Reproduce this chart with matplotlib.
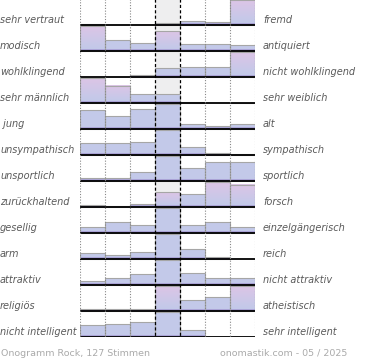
import numpy as np
import matplotlib
matplotlib.use('Agg')
import matplotlib.pyplot as plt
import matplotlib.patches as mpatches
from matplotlib.colors import to_rgb

# Onogramm data: share of votes per scale step, relative to each row's maximum (100 = full row)
left_labels = ['sehr vertraut', 'modisch', 'wohlklingend', 'sehr männlich', ' jung',
               'unsympathisch', 'unsportlich', 'zurückhaltend', 'gesellig', 'arm',
               'attraktiv', 'religiös', 'nicht intelligent']
right_labels = ['fremd', 'antiquiert', 'nicht wohlklingend', 'sehr weiblich', 'alt',
                'sympathisch', 'sportlich', 'forsch', 'einzelgängerisch', 'reich',
                'nicht attraktiv', 'atheistisch', 'sehr intelligent']
values = [
    [7, 0, 0, 9, 17, 13, 100],
    [100, 44, 33, 80, 31, 31, 24],
    [0, 0, 9, 36, 40, 40, 100],
    [100, 71, 37, 37, 7, 0, 3],
    [77, 55, 81, 100, 23, 15, 23],
    [48, 48, 52, 100, 35, 10, 5],
    [12, 12, 36, 100, 55, 76, 76],
    [8, 4, 13, 60, 52, 100, 89],
    [24, 47, 35, 100, 35, 47, 27],
    [24, 16, 28, 100, 43, 11, 0],
    [17, 31, 44, 100, 48, 31, 31],
    [9, 9, 9, 100, 45, 56, 100],
    [48, 52, 60, 100, 28, 0, 0],
]
# bars drawn with a pink top (row, column)
pink_bars = [(0, 6), (1, 0), (1, 3), (2, 6), (3, 0), (3, 1), (7, 3), (7, 5), (7, 6), (11, 3), (11, 6)]
footer_left = 'Onogramm Rock, 127 Stimmen'
footer_right = 'onomastik.com - 05 / 2025'

n_rows = len(values)
n_cols = len(values[0])

W, H = 370, 360
fig = plt.figure(figsize=(W / 100, H / 100), dpi=100)
ax_l, ax_r = 80, 255
ax_top, ax_bot = -0.7, 337.3
ax = fig.add_axes([ax_l / W, 1 - ax_bot / H, (ax_r - ax_l) / W, (ax_bot - ax_top) / H])
ax.set_xlim(0, n_cols)
ax.set_ylim(n_rows, 0)
ax.axis('off')

blue = np.array(to_rgb('#c3c9e9'))
pink = np.array(to_rgb('#dcc5e6'))
full = 25 / 26

# middle column background
ax.add_patch(mpatches.Rectangle((3, 0), 1, n_rows, facecolor='#eeeeef', edgecolor='none', zorder=0))

for i, row in enumerate(values):
    base = i + 1
    for j, v in enumerate(row):
        h = v / 100 * full
        if h <= 0:
            continue
        if (i, j) in pink_bars:
            t = np.linspace(0, 1, 40)[:, None]
            w = np.clip(1 - t * 1.15, 0, 1)
            grad = (w * pink + (1 - w) * blue)[:, None, :]
            ax.imshow(grad, extent=(j, j + 1, base, base - h), origin='upper',
                      aspect='auto', interpolation='bilinear', zorder=2)
        else:
            ax.add_patch(mpatches.Rectangle((j, base), 1, -h, facecolor=blue,
                                            edgecolor='none', zorder=2))
        band = min(h, 0.09)
        ax.add_patch(mpatches.Rectangle((j, base), 1, -band, facecolor='#aaa3d6',
                                        edgecolor='none', zorder=3))
        ax.add_patch(mpatches.Rectangle((j, base), 1, -min(h, 0.04), facecolor='#8e86c2',
                                        edgecolor='none', zorder=3))
        ax.add_patch(mpatches.Rectangle((j, base), 1, -h, facecolor='none',
                                        edgecolor='#a6a6a6', linewidth=0.8, zorder=4))
    ax.plot([0, n_cols], [base, base], color='black', linewidth=1.3, zorder=5,
            solid_capstyle='butt')
    ax.text(-80 / 25, base - 0.2, left_labels[i], ha='left', va='center',
            fontsize=7, style='italic', color='#5a5a5a', clip_on=False)
    ax.text(n_cols + 8 / 25, base - 0.2, right_labels[i], ha='left', va='center',
            fontsize=7, style='italic', color='#5a5a5a', clip_on=False)

# grid lines
for x in range(n_cols + 1):
    if x in (3, 4):
        ax.plot([x, x], [0, n_rows], color='black', linestyle=(0, (2.5, 1.8)), linewidth=0.9, zorder=6)
    else:
        ax.plot([x, x], [0, n_rows], color='#888888', linestyle=(0, (1, 1.5)), linewidth=0.8, zorder=6)

fig.text(1 / W, 1 - 353 / H, footer_left, ha='left', va='center', fontsize=6.8, color='#aaaaaa')
fig.text(347 / W, 1 - 353 / H, footer_right, ha='right', va='center', fontsize=6.8, color='#aaaaaa')

fig.savefig('out.png', dpi=100)
